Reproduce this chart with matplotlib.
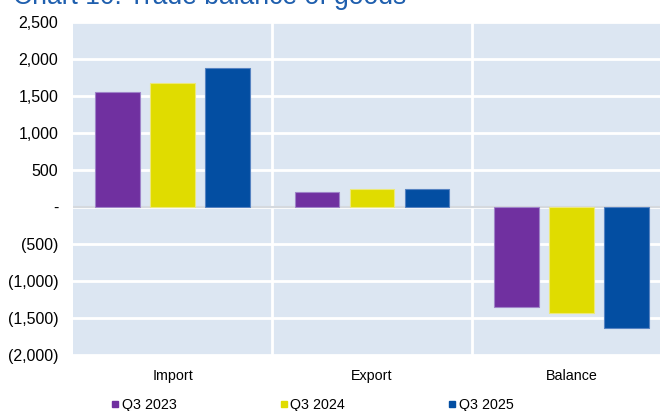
import matplotlib.pyplot as plt
from matplotlib.lines import Line2D
from matplotlib.ticker import FuncFormatter, MultipleLocator

plt.rcParams['font.family'] = ['Liberation Sans', 'DejaVu Sans']

# trade data, millions
categories = ['Import', 'Export', 'Balance']
series_names = ['Q3 2023', 'Q3 2024', 'Q3 2025']
q3_2023 = [1551, 206, -1345]
q3_2024 = [1676, 237, -1439]
q3_2025 = [1875, 240, -1635]

colors = ['#7030A0', '#E0DC00', '#034EA2']
edges = ['#9F84C9', '#ECE87A', '#5683C2']


def fmt(v, pos):
    if v == 0:
        return '-'
    if v < 0:
        return '({:,.0f})'.format(-v)
    return '{:,.0f}'.format(v)


fig = plt.figure(figsize=(6.6, 4.11), dpi=100)
ax = fig.add_axes([73 / 660, 56 / 411, 598 / 660, 333 / 411])
ax.set_facecolor('#DCE6F2')

w = 0.223
step = 0.2757
x = list(range(len(categories)))
for i, vals in enumerate([q3_2023, q3_2024, q3_2025]):
    xs = [k + (i - 1) * step for k in x]
    ax.bar(xs, vals, width=w, color=colors[i], edgecolor=edges[i],
           linewidth=0.8, zorder=3, label=series_names[i])

ax.set_xlim(-0.5, 2.5)
ax.set_ylim(-2000, 2500)
ax.yaxis.set_major_locator(MultipleLocator(500))
ax.yaxis.set_major_formatter(FuncFormatter(fmt))
ax.grid(axis='y', color='white', linewidth=2, zorder=1)
for sep in [0.5, 1.5]:
    ax.axvline(sep, color='white', linewidth=2, zorder=1)
ax.axhline(0, color='#D5D9DE', linewidth=1.5, zorder=2)

ax.set_xticks(x)
ax.set_xticklabels(categories, fontsize=10.3)
ax.tick_params(axis='x', length=0, pad=10)
ax.tick_params(axis='y', length=0, pad=10.5, labelsize=11.5)
for s in ax.spines.values():
    s.set_visible(False)

handles = [Line2D([], [], linestyle='none', marker='s', markersize=5,
                  color=c) for c in colors]
fig.legend(handles, series_names, loc='center left', ncol=3,
           bbox_to_anchor=(111.5 / 660, 1 - 405 / 411), frameon=False,
           fontsize=10.3, handlelength=0.5, handletextpad=0.2,
           columnspacing=7.25, borderpad=0, borderaxespad=0)

# title sits partly above the top edge
fig.text(13 / 660, 1 - 4 / 411, 'Chart 10: Trade balance of goods',
         fontsize=19.1, color='#1F5FAE', va='baseline', ha='left')

fig.savefig('out.png', dpi=100)
